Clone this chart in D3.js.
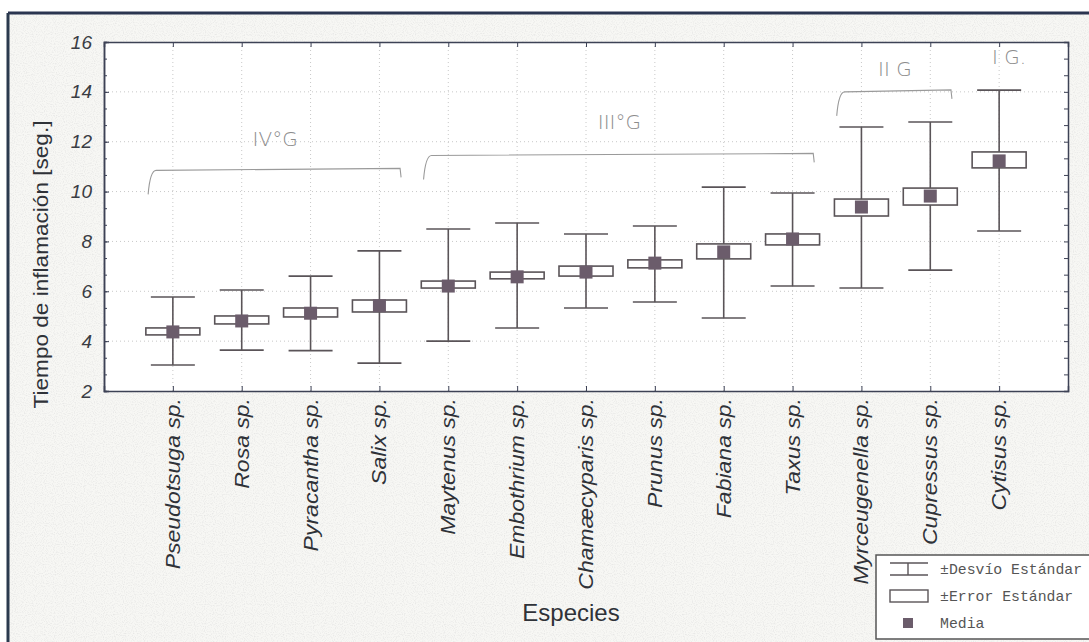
<!DOCTYPE html>
<html>
<head>
<meta charset="utf-8">
<script src="https://cdn.jsdelivr.net/npm/d3@7"></script>
<style>
  body { margin: 0; background: #fff; }
  svg { display: block; }
</style>
</head>
<body>
<div id="chart"></div>
<script>
// data
var species = ["Pseudotsuga sp.", "Rosa sp.", "Pyracantha sp.", "Salix sp.", "Maytenus sp.",
  "Embothrium sp.", "Chamæcyparis sp.", "Prunus sp.", "Fabiana sp.", "Taxus sp.",
  "Myrceugenella sp.", "Cupressus sp.", "Cytisus sp."];
var means  = [4.37, 4.81, 5.12, 5.42, 6.21, 6.58, 6.77, 7.13, 7.58, 8.10, 9.38, 9.82, 11.23];
var seLow  = [4.25, 4.69, 4.97, 5.17, 6.13, 6.50, 6.61, 6.94, 7.30, 7.86, 9.02, 9.46, 10.95];
var seHigh = [4.53, 5.01, 5.33, 5.65, 6.41, 6.77, 7.01, 7.26, 7.90, 8.30, 9.70, 10.14, 11.59];
var sdLow  = [3.04, 3.64, 3.62, 3.12, 4.00, 4.53, 5.33, 5.57, 4.93, 6.21, 6.13, 6.85, 8.42];
var sdHigh = [5.77, 6.05, 6.61, 7.62, 8.50, 8.74, 8.30, 8.62, 10.18, 9.94, 12.59, 12.79, 14.07];
var yTicks = [2, 4, 6, 8, 10, 12, 14, 16];

// handwritten group notes on the scan
var groupLabels = ["IV°G", "III°G", "II G", "I G."];
var groupFrom   = [0, 4, 10, 12];
var groupTo     = [3, 9, 11, 12];
var groupLine   = [10.85, 11.45, 14.0, null];
var groupText   = [12.1, 12.8, 14.9, 15.4];

var legendLabels = ["±Desvío Estándar", "±Error Estándar", "Media"];

var svgWidth = 1089;
var svgHeight = 642;
var plot = { left: 104, right: 1068, top: 42, bottom: 391 };

var lineCol = "#5a5458";
var meanCol = "#6b5c6b";
var axisCol = "#3d4255";

var svg = d3.select("#chart")
  .append("svg")
  .attr("width", svgWidth)
  .attr("height", svgHeight);

// paper texture
var defs = svg.append("defs");
var f = defs.append("filter").attr("id", "grain").attr("x", 0).attr("y", 0).attr("width", "100%").attr("height", "100%");
f.append("feTurbulence").attr("type", "fractalNoise").attr("baseFrequency", 0.9).attr("numOctaves", 1).attr("seed", 3);
f.append("feColorMatrix").attr("type", "matrix")
  .attr("values", "0 0 0 0 0.5  0 0 0 0 0.5  0 0 0 0 0.52  0 0 0 -2.4 1.3");

svg.append("rect").attr("x", 8).attr("y", 13).attr("width", svgWidth).attr("height", svgHeight)
  .attr("fill", "#f7f7f4");
svg.append("rect").attr("x", 8).attr("y", 13).attr("width", svgWidth).attr("height", svgHeight)
  .attr("filter", "url(#grain)").attr("opacity", 0.3);

// scan frame
svg.append("line").attr("x1", 8).attr("x2", svgWidth).attr("y1", 13).attr("y2", 13)
  .attr("stroke", "#2b3550").attr("stroke-width", 3);
svg.append("line").attr("x1", 8).attr("x2", 8).attr("y1", 13).attr("y2", svgHeight)
  .attr("stroke", "#2b3a4e").attr("stroke-width", 3);

var x = d3.scalePoint()
  .domain(species)
  .range([plot.left, plot.right])
  .padding(1);

var y = d3.scaleLinear()
  .domain([2, 16])
  .range([plot.bottom, plot.top]);

var step = x.step();
var plotW = plot.right - plot.left;
var plotH = plot.bottom - plot.top;

svg.append("rect")
  .attr("x", plot.left).attr("y", plot.top)
  .attr("width", plotW).attr("height", plotH)
  .attr("fill", "#fff");

// dotted grid
svg.append("g").selectAll("line")
  .data(yTicks.slice(1, -1))
  .enter().append("line")
  .attr("x1", plot.left).attr("x2", plot.right)
  .attr("y1", d => y(d)).attr("y2", d => y(d))
  .attr("stroke", "#c8c8c8").attr("stroke-dasharray", "1,3");
svg.append("g").selectAll("line")
  .data(species)
  .enter().append("line")
  .attr("x1", d => x(d)).attr("x2", d => x(d))
  .attr("y1", plot.top).attr("y2", plot.bottom)
  .attr("stroke", "#c8c8c8").attr("stroke-dasharray", "1,3");

// axes
var minorTicks = d3.range(2, 16.01, 2 / 3);
var leftAxis = d3.axisLeft(y).tickValues(yTicks).tickSize(-5).tickPadding(12).tickFormat(d3.format("d"));
var leftMinor = d3.axisLeft(y).tickValues(minorTicks).tickSize(-3).tickFormat("");
var rightMinor = d3.axisRight(y).tickValues(minorTicks).tickSize(-4).tickFormat("");
var bottomAxis = d3.axisBottom(x).tickSize(-5).tickFormat("");
var topAxis = d3.axisTop(x).tickSize(-5).tickFormat("");

var gl = svg.append("g").attr("transform", `translate(${plot.left},0)`).call(leftAxis);
svg.append("g").attr("transform", `translate(${plot.left},0)`).call(leftMinor);
svg.append("g").attr("transform", `translate(${plot.right},0)`).call(rightMinor);
svg.append("g").attr("transform", `translate(0,${plot.bottom})`).call(bottomAxis);
svg.append("g").attr("transform", `translate(0,${plot.top})`).call(topAxis);

svg.selectAll(".domain").attr("stroke", axisCol).attr("stroke-width", 1.5);
svg.selectAll(".tick line").attr("stroke", axisCol);
gl.selectAll("text")
  .attr("font-family", "Liberation Sans, Arial, sans-serif")
  .attr("font-style", "italic")
  .attr("font-size", 19)
  .attr("fill", "#3a3d44");

// species labels, rotated (scan is stretched a little vertically)
svg.append("g").selectAll("text")
  .data(species)
  .enter().append("text")
  .attr("transform", d => `translate(${x(d) + 7},${plot.bottom + 7}) rotate(-90) scale(1.15,1)`)
  .attr("text-anchor", "end")
  .attr("font-family", "Liberation Sans, Arial, sans-serif")
  .attr("font-style", "italic")
  .attr("font-size", 20)
  .attr("fill", "#2f3238")
  .text(d => d);

// axis titles
svg.append("text")
  .attr("transform", `translate(48,${(plot.top + plot.bottom) / 2 + 48}) rotate(-90) scale(1.13,1)`)
  .attr("text-anchor", "middle")
  .attr("font-family", "Liberation Sans, Arial, sans-serif")
  .attr("font-size", 20)
  .attr("fill", "#2f3238")
  .text("Tiempo de inflamación [seg.]");

svg.append("text")
  .attr("x", 571).attr("y", 621)
  .attr("text-anchor", "middle")
  .attr("font-family", "Liberation Sans, Arial, sans-serif")
  .attr("font-size", 24)
  .attr("fill", "#2f3238")
  .text("Especies");

// whiskers (SD), boxes (SE), means
var boxW = 54, capW = 44, meanS = 13;
var g = svg.append("g").selectAll("g")
  .data(species)
  .enter().append("g");

g.append("line")
  .attr("x1", d => x(d)).attr("x2", d => x(d))
  .attr("y1", (d, i) => y(sdHigh[i])).attr("y2", (d, i) => y(sdLow[i]))
  .attr("stroke", lineCol).attr("stroke-width", 1.6);
g.append("line")
  .attr("x1", d => x(d) - capW / 2).attr("x2", d => x(d) + capW / 2)
  .attr("y1", (d, i) => y(sdHigh[i])).attr("y2", (d, i) => y(sdHigh[i]))
  .attr("stroke", lineCol).attr("stroke-width", 1.6);
g.append("line")
  .attr("x1", d => x(d) - capW / 2).attr("x2", d => x(d) + capW / 2)
  .attr("y1", (d, i) => y(sdLow[i])).attr("y2", (d, i) => y(sdLow[i]))
  .attr("stroke", lineCol).attr("stroke-width", 1.6);
g.append("rect")
  .attr("x", d => x(d) - boxW / 2)
  .attr("y", (d, i) => y(seHigh[i]))
  .attr("width", boxW)
  .attr("height", (d, i) => y(seLow[i]) - y(seHigh[i]))
  .attr("fill", "#fff").attr("stroke", lineCol).attr("stroke-width", 1.6);
g.append("rect")
  .attr("x", d => x(d) - meanS / 2)
  .attr("y", (d, i) => y(means[i]) - meanS / 2)
  .attr("width", meanS).attr("height", meanS)
  .attr("fill", meanCol);

// pencil notes
var notes = svg.append("g");
groupLabels.forEach(function(lbl, i) {
  var x0 = x(species[groupFrom[i]]) - step * 0.33;
  var x1 = x(species[groupTo[i]]) + step * 0.3;
  if (groupLine[i] != null) {
    var yl = y(groupLine[i]);
    notes.append("path")
      .attr("d", `M${x0 - 2},${yl + 24} Q${x0},${yl} ${x0 + 6},${yl} L${x1},${yl - 2} L${x1 + 1},${yl + 7}`)
      .attr("fill", "none").attr("stroke", "#9a9a9a").attr("stroke-width", 1.1);
  }
  notes.append("text")
    .attr("x", groupLine[i] != null ? (x0 + x1) / 2 : x(species[groupFrom[i]]) + 10)
    .attr("y", y(groupText[i]) + 7)
    .attr("text-anchor", "middle")
    .attr("font-family", "DejaVu Sans, sans-serif")
    .attr("font-weight", 200)
    .attr("font-size", 20)
    .attr("fill", "#8c8c8c")
    .text(lbl);
});

// legend
var lg = svg.append("g").attr("transform", "translate(876,555)");
lg.append("rect").attr("width", 230).attr("height", 84)
  .attr("fill", "#fff").attr("stroke", "#555").attr("stroke-width", 1.5);
var symX = 32;
lg.append("line").attr("x1", 14).attr("x2", 52).attr("y1", 8).attr("y2", 8).attr("stroke", lineCol).attr("stroke-width", 1.4);
lg.append("line").attr("x1", 14).attr("x2", 52).attr("y1", 20).attr("y2", 20).attr("stroke", lineCol).attr("stroke-width", 1.4);
lg.append("line").attr("x1", symX).attr("x2", symX).attr("y1", 8).attr("y2", 20).attr("stroke", lineCol).attr("stroke-width", 1.4);
lg.append("rect").attr("x", 14).attr("y", 35).attr("width", 38).attr("height", 12)
  .attr("fill", "#fff").attr("stroke", lineCol).attr("stroke-width", 1.4);
lg.append("rect").attr("x", symX - 5).attr("y", 63).attr("width", 10).attr("height", 10).attr("fill", meanCol);
lg.selectAll("text.leg")
  .data(legendLabels)
  .enter().append("text")
  .attr("class", "leg")
  .attr("x", 64)
  .attr("y", (d, i) => 19 + i * 27)
  .attr("font-family", "Liberation Mono, Courier New, monospace")
  .attr("font-size", 14.8)
  .attr("fill", "#555")
  .text(d => d);
</script>
</body>
</html>
